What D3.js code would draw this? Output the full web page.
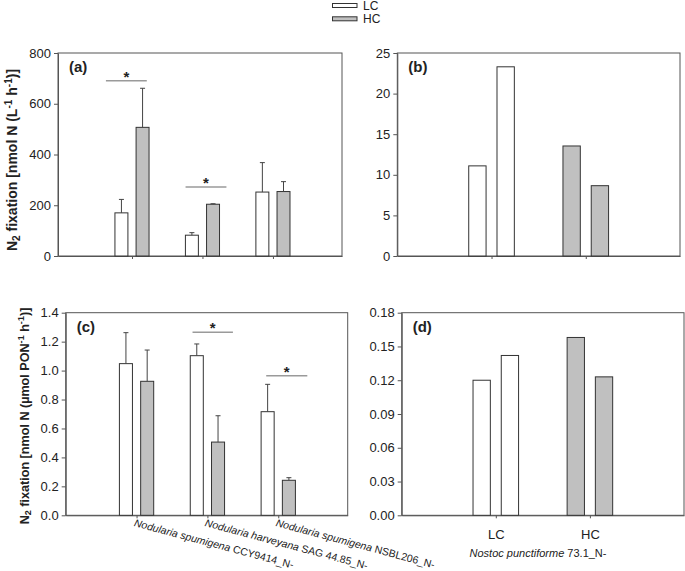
<!DOCTYPE html>
<html><head><meta charset="utf-8">
<script src="https://cdn.jsdelivr.net/npm/d3@7"></script>
<style>body{margin:0;background:#fff;} text{font-family:"Liberation Sans",Arial,sans-serif;fill:#222;}</style>
</head><body><svg id="c" width="685" height="571"></svg>
<script>
// ---- data ----
const groupLabels = ["LC", "HC"];
const speciesC = ["Nodularia spumigena", "Nodularia harveyana", "Nodularia spumigena"];
const strainC = ["CCY9414_N-", "SAG 44.85_N-", "NSBL206_N-"];
const aLC = [170, 82, 252];
const aLCerr = [53, 10, 116];
const aHC = [507, 204, 254];
const aHCerr = [154, 2, 39];
const cLC = [1.048, 1.103, 0.716];
const cLCerr = [0.214, 0.081, 0.189];
const cHC = [0.926, 0.506, 0.242];
const cHCerr = [0.216, 0.182, 0.018];
const bLC = [11.1, 23.3];
const bHC = [13.55, 8.66];
const dLC = [0.120, 0.142];
const dHC = [0.158, 0.123];
const sigA = [{x0: 0.63, x1: 1.21, y: 691}, {x0: 1.76, x1: 2.34, y: 272}];
const sigC = [{x0: 1.79, x1: 2.36, y: 1.265}, {x0: 2.83, x1: 3.41, y: 0.965}];
const ticksA = [0, 200, 400, 600, 800];
const ticksB = [0, 5, 10, 15, 20, 25];
const ticksC = [0, 0.2, 0.4, 0.6, 0.8, 1.0, 1.2, 1.4];
const ticksD = [0, 0.03, 0.06, 0.09, 0.12, 0.15, 0.18];
const speciesD = "Nostoc punctiforme";
const strainD = "73.1_N-";

const svg = d3.select("#c");
const WHITE = "#ffffff", GRAY = "#c0c0c0", STROKE = "#333", FRAME = "#555";
const OFF = 0.15, BW = 0.184;

function panel(o) {
  const g = svg.append("g");
  const x = d3.scaleLinear().domain(o.xd).range([o.l, o.r]);
  const y = d3.scaleLinear().domain([0, o.ymax]).range([o.b, o.t]);
  g.append("rect").attr("x", o.l).attr("y", o.t).attr("width", o.r - o.l).attr("height", o.b - o.t)
    .attr("fill", "none").attr("stroke", FRAME).attr("stroke-width", 1);
  const ya = g.append("g").attr("transform", `translate(${o.l},0)`)
    .call(d3.axisLeft(y).tickValues(o.ticks).tickFormat(o.fmt).tickSize(4).tickSizeOuter(0).tickPadding(3));
  ya.select(".domain").attr("stroke", FRAME);
  ya.selectAll(".tick line").attr("stroke", FRAME);
  ya.selectAll("text").style("font-size", "13px").attr("fill", "#222");
  const xa = g.append("g").attr("transform", `translate(0,${o.b})`)
    .call(d3.axisBottom(x).tickValues(o.xt).tickFormat((d, i) => o.xlab ? o.xlab[i] : "").tickSize(3).tickSizeOuter(0).tickPadding(11));
  xa.select(".domain").attr("stroke", FRAME);
  xa.selectAll(".tick line").attr("stroke", FRAME);
  xa.selectAll("text").style("font-size", "13px").attr("fill", "#222");
  o.bars.forEach(bar => {
    const x0 = x(bar.c - BW / 2), x1 = x(bar.c + BW / 2);
    g.append("rect").attr("x", x0).attr("y", y(bar.v)).attr("width", x1 - x0).attr("height", y(0) - y(bar.v))
      .attr("fill", bar.fill).attr("stroke", STROKE).attr("stroke-width", 1);
    if (bar.e != null) {
      const xc = x(bar.c);
      g.append("line").attr("x1", xc).attr("x2", xc).attr("y1", y(bar.v)).attr("y2", y(bar.v + bar.e)).attr("stroke", "#444");
      g.append("line").attr("x1", xc - 2.5).attr("x2", xc + 2.5).attr("y1", y(bar.v + bar.e)).attr("y2", y(bar.v + bar.e)).attr("stroke", "#444");
    }
  });
  (o.sig || []).forEach(s => {
    g.append("line").attr("x1", x(s.x0)).attr("x2", x(s.x1)).attr("y1", y(s.y)).attr("y2", y(s.y))
      .attr("stroke", "#9a9a9a").attr("stroke-width", 1.5);
    g.append("text").attr("x", x((s.x0 + s.x1) / 2)).attr("y", y(s.y) + 1).attr("text-anchor", "middle")
      .style("font-size", "15px").style("font-weight", "bold").text("*");
  });
  g.append("text").attr("x", o.l + 11).attr("y", o.t + 19).style("font-size", "15px").style("font-weight", "bold").text(o.tag);
  return {g, x, y};
}

function ytitle(cx, cy, unit, fs) {
  const ss = fs * 0.72, sh = fs * 0.36;
  const t = svg.append("text").attr("transform", `translate(${cx},${cy}) rotate(-90)`).attr("text-anchor", "middle")
    .style("font-size", fs + "px").style("font-weight", "bold");
  t.append("tspan").text("N");
  t.append("tspan").attr("dy", fs * 0.22).style("font-size", ss + "px").text("2");
  t.append("tspan").attr("dy", -fs * 0.22).text(" fixation [nmol N (" + unit);
  t.append("tspan").attr("dy", -sh).style("font-size", ss + "px").text("-1");
  t.append("tspan").attr("dy", sh).text(" h");
  t.append("tspan").attr("dy", -sh).style("font-size", ss + "px").text("-1");
  t.append("tspan").attr("dy", sh).text(")]");
}

// (a)
const barsA = [];
aLC.forEach((v, i) => { barsA.push({c: i + 1 - OFF, v, e: aLCerr[i], fill: WHITE}); barsA.push({c: i + 1 + OFF, v: aHC[i], e: aHCerr[i], fill: GRAY}); });
panel({l: 58, r: 342, t: 53, b: 256, xd: [-0.05, 3.98], ymax: 800, ticks: ticksA, fmt: d3.format("d"), xt: [1, 2, 3], bars: barsA, sig: sigA, tag: "(a)"});
ytitle(17, 160, "L", 14);

// (b)
const barsB = [];
bLC.forEach((v, i) => barsB.push({c: 1 + (i === 0 ? -OFF : OFF), v, fill: WHITE}));
bHC.forEach((v, i) => barsB.push({c: 2 + (i === 0 ? -OFF : OFF), v, fill: GRAY}));
panel({l: 397.3, r: 680, t: 53, b: 256, xd: [0, 3], ymax: 25, ticks: ticksB, fmt: d3.format("d"), xt: [1, 2], bars: barsB, tag: "(b)"});

// (c)
const barsC = [];
cLC.forEach((v, i) => { barsC.push({c: i + 1 - OFF, v, e: cLCerr[i], fill: WHITE}); barsC.push({c: i + 1 + OFF, v: cHC[i], e: cHCerr[i], fill: GRAY}); });
const pc = panel({l: 65.7, r: 347.7, t: 312.7, b: 515.3, xd: [0, 3.98], ymax: 1.4, ticks: ticksC, fmt: d3.format(".1f"), xt: [1, 2, 3], bars: barsC, sig: sigC, tag: "(c)"});
ytitle(28.5, 416, "\u00b5mol PON", 12.6);
speciesC.forEach((sp, i) => {
  const t = svg.append("text").attr("transform", `translate(${pc.x(i + 1) - 1},${515.3 + 3}) rotate(15)`)
    .attr("dy", "0.75em").style("font-size", "10.5px");
  t.append("tspan").style("font-style", "italic").text(sp + " ");
  t.append("tspan").text(strainC[i]);
});

// (d)
const barsD = [];
dLC.forEach((v, i) => barsD.push({c: 1 + (i === 0 ? -OFF : OFF), v, fill: WHITE}));
dHC.forEach((v, i) => barsD.push({c: 2 + (i === 0 ? -OFF : OFF), v, fill: GRAY}));
panel({l: 401.7, r: 684, t: 312.7, b: 515.3, xd: [0, 3], ymax: 0.18, ticks: ticksD, fmt: d3.format(".2f"), xt: [1, 2], xlab: groupLabels, bars: barsD, tag: "(d)"});
(function () {
  const t = svg.append("text").attr("x", 538).attr("y", 557).attr("text-anchor", "middle").style("font-size", "11px");
  t.append("tspan").style("font-style", "italic").text(speciesD + " ");
  t.append("tspan").text(strainD);
})();

// legend
groupLabels.forEach((lab, i) => {
  const yy = 3.5 + i * 13.3;
  svg.append("rect").attr("x", 332.5).attr("y", yy).attr("width", 24.5).attr("height", 4)
    .attr("fill", i === 0 ? WHITE : GRAY).attr("stroke", STROKE).attr("stroke-width", 1);
  svg.append("text").attr("x", 363).attr("y", yy + 6.5).style("font-size", "12px").text(lab);
});
</script></body></html>
